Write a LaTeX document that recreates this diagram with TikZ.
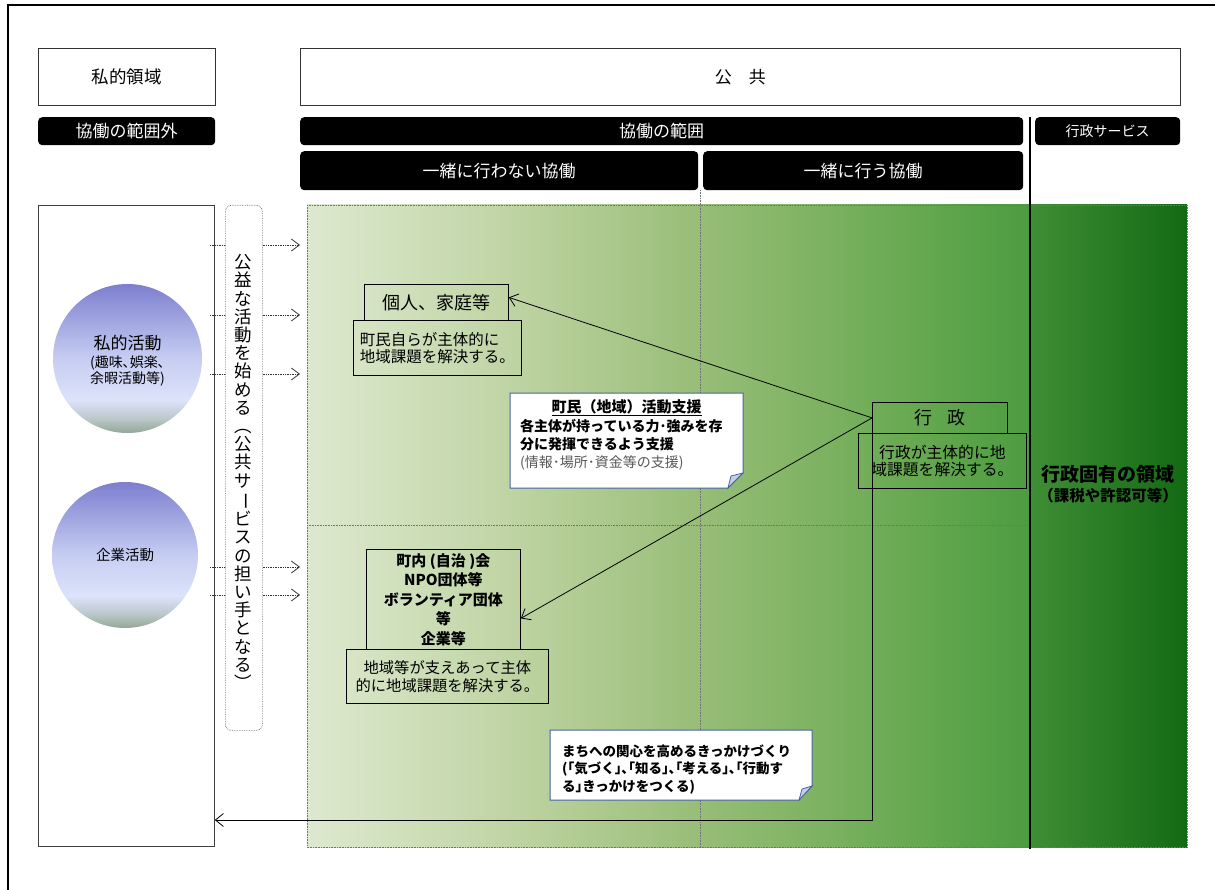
\documentclass[tikz,border=0pt]{standalone}
\usepackage{fontspec}
\setmainfont{Noto Sans CJK JP}
\usetikzlibrary{arrows.meta}
\newcommand\myfs[2]{\fontsize{#1}{#2}\selectfont}
\definecolor{g0}{HTML}{DDE9CF}
\definecolor{g1}{HTML}{D0E0BC}
\definecolor{g2}{HTML}{C1D5A6}
\definecolor{g3}{HTML}{ADC98E}
\definecolor{g4}{HTML}{97BD77}
\definecolor{g5}{HTML}{82B465}
\definecolor{g6}{HTML}{6AAA53}
\definecolor{g7}{HTML}{4C9C40}
\definecolor{dk1}{HTML}{3F8E36}
\definecolor{dk2}{HTML}{136A13}
\definecolor{bgreen}{HTML}{93A893}
\definecolor{bmid}{HTML}{BCC8CC}
\definecolor{bpale}{HTML}{DCE3FA}
\definecolor{blav}{HTML}{C6CDF2}
\definecolor{btop}{HTML}{7D7FCF}
\definecolor{callb}{HTML}{4664A0}
\definecolor{foldc}{HTML}{C6CFE5}
\pgfdeclarehorizontalshading{greenarea}{100bp}{color(0bp)=(g0); color(25bp)=(g0); color(31.4bp)=(g1); color(38.3bp)=(g2); color(45.3bp)=(g3); color(52.2bp)=(g4); color(59.1bp)=(g5); color(66bp)=(g6); color(75bp)=(g7); color(100bp)=(g7)}
\pgfdeclareverticalshading{ball}{100bp}{color(0bp)=(bgreen); color(25bp)=(bgreen); color(30bp)=(bmid); color(36bp)=(bpale); color(50bp)=(blav); color(75bp)=(btop); color(100bp)=(btop)}
\begin{document}
\begin{tikzpicture}[x=1pt, y=-1pt,
  wbox/.style={draw=black, line width=0.8pt, inner sep=0pt, anchor=north west},
  bbox/.style={fill=black, rounded corners=4pt, text=white, inner sep=0pt, anchor=north west, font=\myfs{17}{20}},
  dotarr/.style={densely dotted, line width=0.7pt, draw=black!80, -{Straight Barb[length=8pt,width=12pt,line width=0.8pt]}},
  solarr/.style={line width=0.8pt, -{Straight Barb[length=8pt,width=13pt]}},
  callout/.style={fill=white, draw=callb, line width=1pt},
  fold/.style={fill=foldc, draw=callb, line width=0.8pt},
  guide/.style={densely dotted, draw=black!55, line width=0.6pt}]
\useasboundingbox (0,0) rectangle (1215,890);
\fill[white] (0,0) rectangle (1215,890);
% outer frame
\draw[line width=1.5pt] (8,890) -- (8,5) -- (1215,5);
% headers
\node[wbox, draw=black!80, fill=white, minimum width=177pt, minimum height=57pt, font=\myfs{17.5}{20}] (shiteki) at (38,48) {私的領域};
\node[wbox, draw=black!80, fill=white, minimum width=880pt, minimum height=57pt, font=\myfs{17}{20}] (kokyo) at (300,48) {公\hspace{1em}共};
\node[bbox, minimum width=177pt, minimum height=28pt] (gai) at (38,117) {協働の範囲外};
\node[bbox, minimum width=723pt, minimum height=28pt] (hani) at (300,117) {協働の範囲};
\node[bbox, minimum width=145pt, minimum height=28pt, font=\myfs{14}{16}] (gsvc) at (1035,117) {行政サービス};
\node[bbox, minimum width=398pt, minimum height=39pt] (nai) at (300,151) {一緒に行わない協働};
\node[bbox, minimum width=320pt, minimum height=39pt] (okonau) at (703,151) {一緒に行う協働};
% green area
\shade[shading=greenarea] (307,205) rectangle (1030,847);
\shade[left color=dk1, right color=dk2] (1030,205) rectangle (1187,847);
\draw[guide] (307,205) rectangle (1187,847);
\draw[guide] (700,190) -- (700,847);
\draw[guide] (307,525) -- (1030,525);
\draw[line width=2.5pt] (1030,117) -- (1030,849);
% left box and circles
\node[wbox, draw=black!75, fill=white, minimum width=176pt, minimum height=641pt] (leftbox) at (38,205) {};
\node[circle, shading=ball, minimum size=149pt, inner sep=0pt] (shikatsu) at (127.5,358.5) {};
\node[font=\myfs{17}{20}] (shikatsuA) at (127.5,343) {私的活動};
\node[font=\myfs{14}{16}, align=center] (shikatsuB) at (127.5,371) {(趣味､娯楽､\\余暇活動等)};
\node[circle, shading=ball, minimum size=146pt, inner sep=0pt, font=\myfs{14.5}{17}] (kigyo) at (125,555) {企業活動};
% dotted arrows
\foreach \yy [count=\i] in {245,315,374,567,595}{
  \coordinate (ds\i) at (210,\yy);
  \coordinate (de\i) at (300,\yy);
  \draw[dotarr] (ds\i) -- (de\i);
}
\node[draw=black!60, densely dotted, line width=0.7pt, rounded corners=6pt, fill=white, minimum width=37pt, minimum height=525pt, anchor=north west, inner sep=0pt] (vbox) at (225,205) {};
\node[align=center, inner sep=0pt, font=\myfs{17.5}{18.2}] (vtext) at (243.5,472) {公\\益\\な\\活\\動\\を\\始\\め\\る\\︵\\公\\共\\サ\\\rotatebox[origin=c]{-90}{ー}\\ビ\\ス\\の\\担\\い\\手\\と\\な\\る\\︶};
% boxes in the green area
\node[wbox, minimum width=144pt, minimum height=36pt, font=\myfs{18}{21}] (kojin) at (364,284) {個人、家庭等};
\node[wbox, minimum width=168pt, minimum height=55pt, font=\myfs{15.5}{17}, align=left] (kojinT) at (353,320) {町民自らが主体的に\\地域課題を解決する。};
\node[wbox, minimum width=154pt, minimum height=100pt, font=\bfseries\myfs{15}{19.5}, align=center] (chonai) at (366,549) {町内 (自治 )会\\NPO団体等\\ボランティア団体\\等\\企業等};
\node[wbox, minimum width=202pt, minimum height=54pt, font=\myfs{15.3}{18}, align=center] (chonaiT) at (346,649) {地域等が支えあって主体\\的に地域課題を解決する。};
\node[wbox, minimum width=135pt, minimum height=31pt, font=\myfs{18}{21}] (gyosei) at (872,402) {行\hspace{0.8em}政};
\node[wbox, minimum width=168pt, minimum height=55pt, font=\myfs{15.8}{17}, align=center] (gyoseiT) at (858,433) {行政が主体的に地\\域課題を解決する。};
% connectors
\draw[solarr] (gyosei.west) -- ([yshift=5pt]kojin.east);
\draw[solarr] (gyosei.west) -- ([yshift=-19pt]chonai.east);
\coordinate (turn) at (872,820);
\draw[solarr] (gyosei.south west) -- (turn) -- (turn -| leftbox.east);
% callout 1
\path[callout] (510,393) -- (743,393) -- (743,473) -- (728,488) -- (510,488) -- cycle;
\path[fold] (728,488) -- (731,476) -- (743,473) -- cycle;
\node[font=\bfseries\myfs{15}{17}] (shienH) at (626.5,408) {\underline{町民（地域）活動支援}};
\node[anchor=west, align=left, inner sep=0pt, font=\bfseries\myfs{14}{18}] (shienB) at (520,445) {各主体が持っている力･強みを存\\分に発揮できるよう支援\\{\mdseries\color{black!65}(情報･場所･資金等の支援)}};
% callout 2
\path[callout] (550,730) -- (812,730) -- (812,786) -- (799,800) -- (550,800) -- cycle;
\path[fold] (799,800) -- (802,789) -- (812,786) -- cycle;
\node[anchor=west, align=left, inner sep=0pt, font=\bfseries\myfs{13.5}{17.5}] (machi) at (562,769.5) {まちへの関心を高めるきっかけづくり\\(｢気づく｣､｢知る｣､｢考える｣､｢行動す\\る｣きっかけをつくる)};
% dark area labels
\node[font=\bfseries\myfs{19}{22}] (koyu) at (1108,474) {行政固有の領域};
\node[font=\bfseries\myfs{15.5}{18}] (koyuB) at (1108,496) {（課税や許認可等）};
\end{tikzpicture}
\end{document}
